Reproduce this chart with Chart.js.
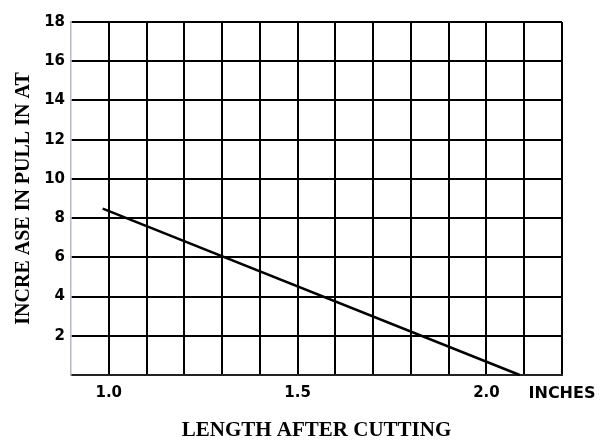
<!DOCTYPE html>
<html>
<head>
<meta charset="utf-8">
<script src="https://cdn.jsdelivr.net/npm/chart.js@4"></script>
<style>
  body { margin: 0; background: #fff; }
  #wrap { width: 605px; height: 444px; }
</style>
</head>
<body>
<div id="wrap"><canvas id="pullChart" width="605" height="444"></canvas></div>
<script>
// line: (length in inches, increase in pull)
const lengthInches = [0.984, 2.088];
const pullIncrease = [8.48, 0];

// x ticks that carry a label, the rest are plain grid lines
const xLabelValues = [1.0, 1.5, 2.0, 2.2];
const xLabelTexts = ['1.0', '1.5', '2.0', 'INCHES'];
const yTickLabels = [2, 4, 6, 8, 10, 12, 14, 16, 18];

const xTitle = 'LENGTH AFTER CUTTING';
const yTitle = 'INCRE ASE IN PULL IN AT';

let findLabel = (value) => {
    for (let i = 0; i < xLabelValues.length; i++) {
        if (Math.abs(xLabelValues[i] - value) < 1e-6) return xLabelTexts[i];
    }
    return '';
};

const ctx = document.getElementById('pullChart').getContext('2d');
const pullChart = new Chart(ctx, {
    type: 'scatter',
    data: {
        datasets: [{
            data: lengthInches.map((x, i) => ({ x: x, y: pullIncrease[i] })),
            showLine: true,
            borderColor: '#000',
            borderWidth: 2.5,
            pointRadius: 0,
            clip: false
        }]
    },
    options: {
        responsive: false,
        animation: false,
        layout: { padding: { left: 0, right: 43, top: 22, bottom: 0 } },
        plugins: {
            legend: { display: false },
            tooltip: { enabled: false }
        },
        scales: {
            x: {
                type: 'linear',
                min: 0.9,
                max: 2.2,
                grid: {
                    color: (c) => c.index === 0 ? 'rgba(0,0,0,0)' : '#000',
                    lineWidth: 2,
                    drawTicks: false
                },
                border: { color: '#222', width: 2 },
                ticks: {
                    stepSize: 0.1,
                    autoSkip: false,
                    maxRotation: 0,
                    padding: 9,
                    color: '#000',
                    font: (c) => ({
                        family: 'DejaVu Sans',
                        weight: 'bold',
                        size: c.tick && findLabel(c.tick.value) === 'INCHES' ? 16 : 15
                    }),
                    callback: (value) => findLabel(value)
                },
                title: {
                    display: true,
                    text: xTitle,
                    color: '#000',
                    font: { family: 'Liberation Serif', weight: 'bold', size: 21 },
                    padding: { top: 0, bottom: 1 }
                },
                afterFit: (scale) => { scale.height = 69; }
            },
            y: {
                min: 0,
                max: 18,
                grid: {
                    color: (c) => c.index === 0 ? 'rgba(0,0,0,0)' : '#000',
                    lineWidth: 2,
                    drawTicks: false
                },
                border: { color: '#b8b8c8', width: 1.5 },
                ticks: {
                    stepSize: 2,
                    padding: 6,
                    color: '#000',
                    font: { family: 'DejaVu Sans', weight: 'bold', size: 15 },
                    callback: (value) => yTickLabels.includes(value) ? String(value) : ''
                },
                title: {
                    display: true,
                    text: yTitle,
                    color: '#000',
                    font: { family: 'Liberation Serif', weight: 'bold', size: 20 },
                    padding: { top: 12, bottom: 0 }
                },
                afterFit: (scale) => { scale.width = 71; }
            }
        }
    }
});
</script>
</body>
</html>
